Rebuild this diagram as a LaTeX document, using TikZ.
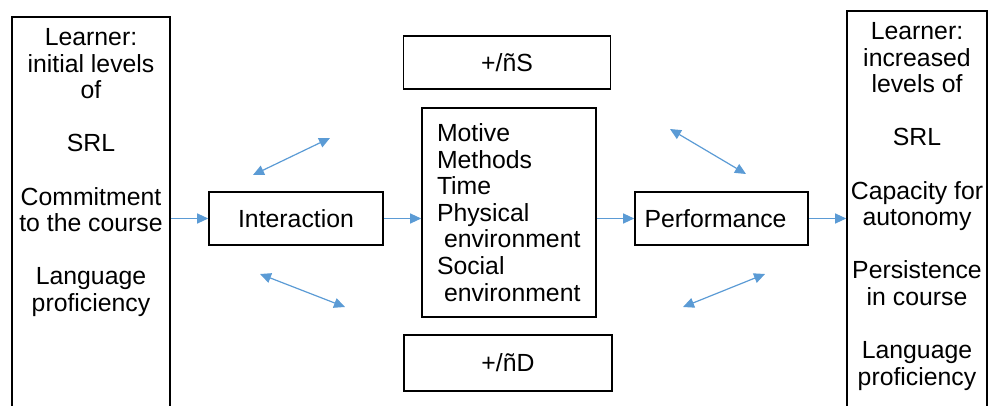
\documentclass[tikz,border=0pt]{standalone}
\usepackage{fontspec}
\setmainfont{Liberation Sans}
\usetikzlibrary{arrows.meta,positioning,calc}
\definecolor{linkblue}{HTML}{5B9BD5}

\begin{document}
\begin{tikzpicture}[
  x=0.5pt, y=-0.5pt,
  every node/.style={font=\fontsize{12.4}{13.3}\selectfont},
  box/.style={rectangle, draw, line width=0.8pt, align=center, inner sep=0pt},
  sidetext/.style={align=center, inner sep=0pt, anchor=north},
  arrow/.style={-{Triangle[length=5.5pt,width=5pt]}, linkblue, line width=0.6pt},
  twoway/.style={{Triangle[length=5.5pt,width=5pt]}-{Triangle[length=5.5pt,width=5pt]}, linkblue, line width=0.6pt}
]
  \clip (0,0) rectangle (989,406);
  % learner boxes (cut off at the bottom)
  \node[box, anchor=north, minimum width=79pt, minimum height=230pt] (initial) at (91,16) {};
  \node[sidetext] (initialtext) at (91,28) {Learner:\\initial levels\\of\\[13.3pt]SRL\\[13.3pt]Commitment\\to the course\\[13.3pt]Language\\proficiency};
  \node[box, anchor=north, minimum width=70pt, minimum height=230pt] (increased) at (917,10) {};
  \node[sidetext] (increasedtext) at (917,22) {Learner:\\increased\\levels of\\[13.3pt]SRL\\[13.3pt]Capacity for\\autonomy\\[13.3pt]Persistence\\in course\\[13.3pt]Language\\proficiency};
  % middle row
  \node[box, minimum width=87pt, minimum height=26.5pt] (interaction) at (296,218.5) {Interaction};
  \node[box, align=left, text width=72pt, inner xsep=7.5pt, minimum height=104.5pt] (factors) at (509,212.5)
    {Motive\\Methods\\Time\\Physical\\\hspace*{3.5pt}environment\\Social\\\hspace*{3.5pt}environment\\[-3pt]};
  \node[box, minimum width=86.5pt, minimum height=26.5pt] (performance) at (721.5,218.5) {Performance\hspace*{6pt}};
  \node[box, minimum width=103.5pt, minimum height=26.5pt] (plusS) at (507,62.5) {+/ñS};
  \node[box, minimum width=104pt, minimum height=28pt] (plusD) at (508,363) {+/ñD};
  % flow
  \draw[arrow] (initial.east |- interaction.west) -- (interaction.west);
  \draw[arrow] (interaction.east) -- (factors.west |- interaction.east);
  \draw[arrow] (factors.east |- performance.west) -- (performance.west);
  \draw[arrow] (performance.east) -- (increased.west |- performance.east);
  % two-way links
  \coordinate (ia1) at (253,175);
  \coordinate (ia2) at (330,138);
  \coordinate (ib1) at (260,274);
  \coordinate (ib2) at (345,307);
  \coordinate (pa1) at (670,129);
  \coordinate (pa2) at (746,174);
  \coordinate (pb1) at (683,307);
  \coordinate (pb2) at (765,274);
  \draw[twoway] (ia1) -- (ia2);
  \draw[twoway] (ib1) -- (ib2);
  \draw[twoway] (pa1) -- (pa2);
  \draw[twoway] (pb1) -- (pb2);
\end{tikzpicture}
\end{document}
